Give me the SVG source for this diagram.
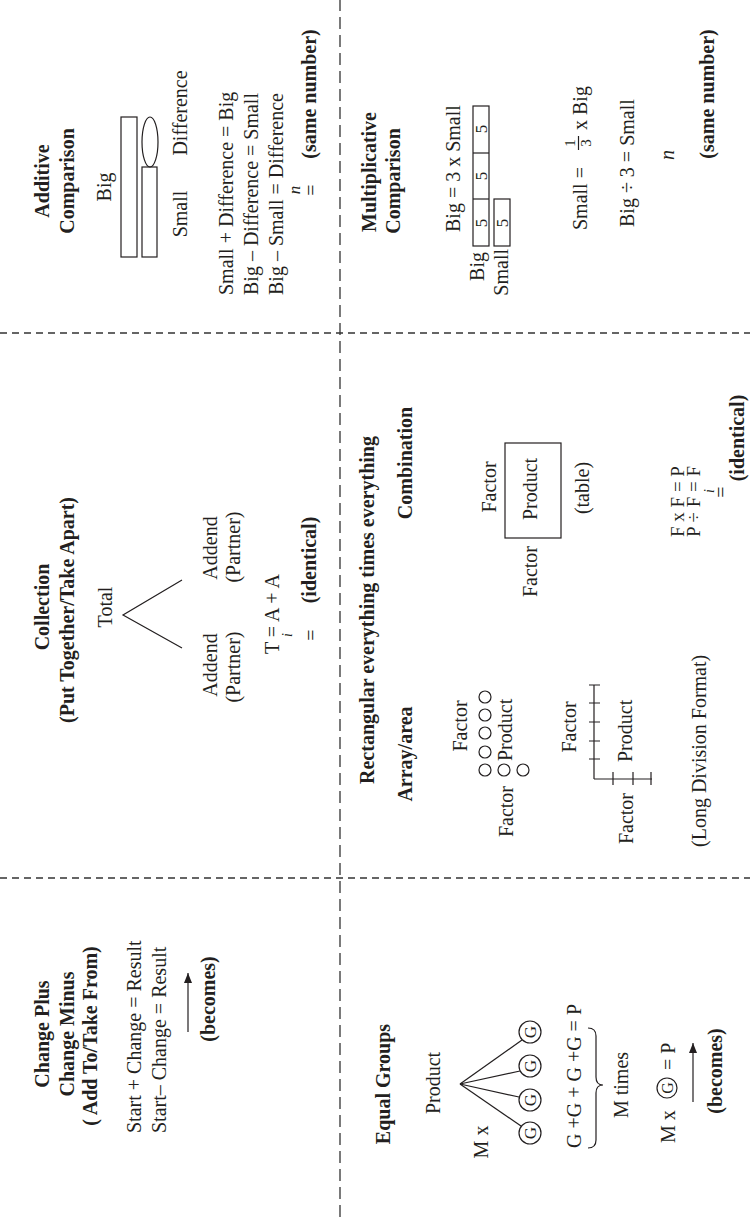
<svg xmlns="http://www.w3.org/2000/svg" width="750" height="1217" viewBox="0 0 750 1217">
<defs>
<style>
text{font-family:"Liberation Serif","Times New Roman",serif;font-size:20px;fill:#231f20}
.b{font-weight:bold}
.m{text-anchor:middle}
.e{text-anchor:end}
.it{font-style:italic}
.s16{font-size:16px}
.s17{font-size:17px}
.s19{font-size:19px}
.s15{font-size:15px}
.s14{font-size:14px}
.ln{stroke:#231f20;stroke-width:1.2;fill:none}
.grid1{stroke:#333;stroke-width:1.3;stroke-dasharray:12 6;fill:none}
.grid2{stroke:#333;stroke-width:1.3;stroke-dasharray:7 5;fill:none}
</style>
<marker id="ah" viewBox="0 0 10 8" refX="10" refY="4" markerWidth="10" markerHeight="8" markerUnits="userSpaceOnUse" orient="auto">
<path d="M0,0 L10,4 L0,8 Z" fill="#231f20"/>
</marker>
</defs>
<rect width="750" height="1217" fill="#fff"/>
<g transform="translate(0,1217) rotate(-90)">
<g id="grid">
<line class="grid1" x1="0" y1="340" x2="1217" y2="340"/>
<line class="grid2" x1="884" y1="0" x2="884" y2="750"/>
<line class="grid2" x1="339" y1="0" x2="339" y2="750"/>
</g>
<g id="change">
<text class="b m" x="183" y="49">Change Plus</text>
<text class="b m" x="183" y="74">Change Minus</text>
<text class="b m" x="181" y="97">( Add To/Take From)</text>
<text x="84" y="141">Start + Change = Result</text>
<text x="84" y="166">Start– Change = Result</text>
<text class="b m" x="218" y="215">(becomes)</text>
</g>
<g id="collection">
<text class="b m" x="610" y="49">Collection</text>
<text class="b m" x="607" y="74">(Put Together/Take Apart)</text>
<text class="m" x="610" y="112">Total</text>
<text class="m" x="552" y="217">Addend</text>
<text class="m" x="550" y="240">(Partner)</text>
<text class="m" x="669" y="217">Addend</text>
<text class="m" x="670" y="240">(Partner)</text>
<text class="m" x="603" y="279">T = A + A</text>
<text class="m it s14" x="582" y="292">i</text>
<text class="m" x="582" y="318">=</text>
<text class="b m" x="657" y="316">(identical)</text>
</g>
<g id="additive-comparison">
<text class="b m" x="1036" y="49">Additive</text>
<text class="b m" x="1036" y="74">Comparison</text>
<text class="m" x="1030" y="111">Big</text>
<rect class="ln" x="960" y="121" width="140" height="16"/>
<rect class="ln" x="960" y="142" width="90" height="15"/>
<ellipse class="ln" cx="1075" cy="150" rx="25" ry="8"/>
<text class="m" x="1003" y="187">Small</text>
<text class="m" x="1104" y="187">Difference</text>
<text x="922" y="233">Small + Difference = Big</text>
<text x="922" y="258">Big – Difference = Small</text>
<text x="922" y="283">Big – Small = Difference</text>
<text class="m it s17" x="1027" y="300">n</text>
<text class="m" x="1027" y="318">=</text>
<text class="b m" x="1123" y="316">(same number)</text>
</g>
<g id="equal-groups">
<text class="b m" x="133" y="390">Equal Groups</text>
<text class="m" x="134" y="440">Product</text>
<text class="m" x="75" y="488">M x</text>
<circle class="ln" cx="84" cy="530" r="11"/>
<circle class="ln" cx="117" cy="530" r="11"/>
<circle class="ln" cx="151" cy="530" r="11"/>
<circle class="ln" cx="185" cy="530" r="11"/>
<text class="m s17" x="84" y="536">G</text>
<text class="m s17" x="117" y="536">G</text>
<text class="m s17" x="151" y="536">G</text>
<text class="m s17" x="185" y="536">G</text>
<text x="69" y="581">G +G + G +G = P</text>
<path class="ln" d="M69,588 Q69,596 77,596 L124,596 Q132,596 132,603 Q132,596 140,596 L181,596 Q189,596 189,588"/>
<text class="m" x="132" y="628">M times</text>
<text x="74" y="675">M x</text>
<circle class="ln" cx="129" cy="667" r="10"/>
<text class="m s16" x="129" y="673">G</text>
<text x="147" y="675">= P</text>
<text class="b m" x="146" y="722">(becomes)</text>
</g>
<g id="rectangular">
<text class="b m" x="607" y="374">Rectangular everything times everything</text>
<text class="b m" x="463" y="412">Array/area</text>
<text class="b m" x="754" y="412">Combination</text>
<text class="m" x="491" y="467">Factor</text>
<circle class="ln" cx="447" cy="485" r="6"/>
<circle class="ln" cx="465" cy="485" r="6"/>
<circle class="ln" cx="484" cy="485" r="6"/>
<circle class="ln" cx="502" cy="485" r="6"/>
<circle class="ln" cx="520" cy="485" r="6"/>
<circle class="ln" cx="447" cy="504" r="6"/>
<circle class="ln" cx="447" cy="523" r="6"/>
<text x="456" y="512">Product</text>
<text class="e" x="431" y="513">Factor</text>
<text class="m" x="490" y="576">Factor</text>
<path class="ln" d="M438,594 L532,594 M438,594 L438,652 M458,589 L458,600 M476,589 L476,600 M495,589 L495,600 M514,589 L514,600 M532,589 L532,600 M432,613 L445,613 M432,633 L445,633 M432,651 L445,651"/>
<text x="455" y="632">Product</text>
<text class="e" x="424" y="633">Factor</text>
<text x="370" y="706">(Long Division Format)</text>
<text class="m" x="730" y="496">Factor</text>
<rect class="ln" x="679" y="505" width="95" height="56"/>
<text class="m" x="728" y="537">Product</text>
<text class="e" x="671" y="537">Factor</text>
<text class="m" x="729" y="589">(table)</text>
<text class="s19" x="680" y="684">F x F = P</text>
<text class="s19" x="680" y="700">P ÷ F = F</text>
<text class="m it s14" x="726" y="714">i</text>
<text class="m" x="725" y="728">=</text>
<text class="b m" x="779" y="744">(identical)</text>
</g>
<g id="multiplicative-comparison">
<text class="b m" x="1045" y="376">Multiplicative</text>
<text class="b m" x="1036" y="400">Comparison</text>
<text x="985" y="460">Big = 3 x Small</text>
<rect class="ln" x="971" y="473" width="140" height="16"/>
<line class="ln" x1="1018" y1="473" x2="1018" y2="489"/>
<line class="ln" x1="1064" y1="473" x2="1064" y2="489"/>
<rect class="ln" x="971" y="494" width="47" height="16"/>
<text class="m s17" x="994" y="487">5</text>
<text class="m s17" x="1041" y="487">5</text>
<text class="m s17" x="1088" y="487">5</text>
<text class="m s17" x="994" y="508">5</text>
<text class="e" x="965" y="484">Big</text>
<text class="e" x="968" y="508">Small</text>
<text x="987" y="587">Small =</text>
<text class="m s15" x="1074" y="575">1</text>
<line class="ln" x1="1067" y1="578.5" x2="1081" y2="578.5"/>
<text class="m s15" x="1074" y="591">3</text>
<text x="1087" y="587">x Big</text>
<text x="990" y="634">Big ÷ 3 = Small</text>
<text class="m it" x="1062" y="674">n</text>
<text class="b m" x="1123" y="714">(same number)</text>
</g>
<g id="connectors">
<line class="ln" x1="185" y1="188" x2="244" y2="188" marker-end="url(#ah)"/>
<polyline class="ln" points="569,182 602,123 637,182"/>
<line class="ln" x1="133" y1="460" x2="91" y2="521"/>
<line class="ln" x1="133" y1="460" x2="120" y2="519"/>
<line class="ln" x1="133" y1="460" x2="146" y2="520"/>
<line class="ln" x1="133" y1="460" x2="177" y2="522"/>
<line class="ln" x1="115" y1="693" x2="174" y2="693" marker-end="url(#ah)"/>
</g>
</g>
</svg>
